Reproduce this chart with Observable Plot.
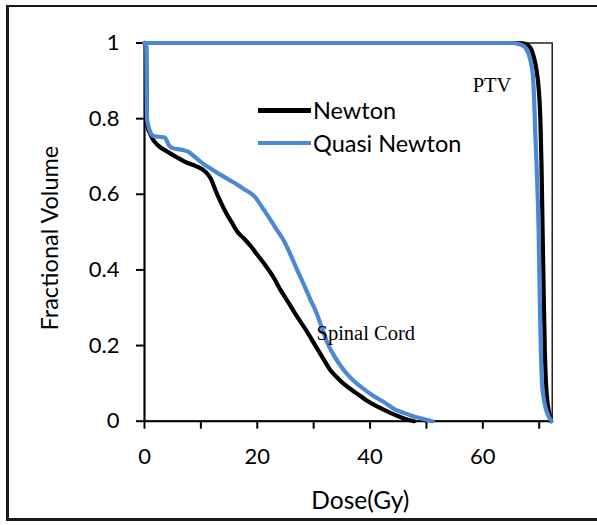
<!DOCTYPE html>
<html>
<head>
<meta charset="utf-8">
<script src="https://cdn.jsdelivr.net/npm/d3@7"></script>
<script src="https://cdn.jsdelivr.net/npm/@observablehq/plot@0.6"></script>
<style>
  html, body { margin: 0; padding: 0; background: #fff; }
  #wrap { position: relative; width: 597px; height: 525px; overflow: hidden; }
  #border { position: absolute; left: 6px; top: 5px; width: 640px; height: 516px;
            border-left: 3.5px solid #1a1a1a; border-top: 2.5px solid #1a1a1a; border-bottom: 3px solid #1a1a1a;
            box-sizing: border-box; pointer-events: none; }
  #legend { position: absolute; left: 258px; top: 94px; font-family: Lato, sans-serif; font-size: 23.5px; color: #000; }
  #legend .row { display: flex; align-items: center; height: 32.5px; }
  #legend .sw { width: 53px; height: 4.5px; margin-right: 2px; }
</style>
</head>
<body>
<div id="wrap">
  <div id="chart"></div>
  <div id="legend"></div>
  <div id="border"></div>
</div>
<script>
// ---- data ----
const seriesNames = ["Newton", "Quasi Newton"];
const seriesColors = ["#000000", "#4d88d4"];

// PTV dose-volume histogram
const ptvNewtonDose   = [0, 66.5, 67.5, 68.3, 69.0, 69.5, 69.9, 70.2, 70.4, 70.6, 70.8, 71.0, 71.2, 71.5, 71.8, 72.1];
const ptvNewtonVol    = [1, 1, 0.998, 0.99, 0.965, 0.93, 0.88, 0.80, 0.68, 0.50, 0.33, 0.18, 0.10, 0.045, 0.02, 0];
const ptvQuasiDose    = [0, 65.0, 66.5, 67.4, 68.0, 68.5, 68.9, 69.1, 69.3, 69.6, 69.9, 70.1, 70.3, 70.5, 70.8, 71.1, 71.6, 72.2];
const ptvQuasiVol     = [1, 1, 0.997, 0.99, 0.975, 0.95, 0.91, 0.85, 0.76, 0.65, 0.50, 0.32, 0.18, 0.10, 0.06, 0.037, 0.015, 0];

// Spinal cord dose-volume histogram
const cordNewtonDose  = [0, 0.3, 0.4, 0.6, 1.0, 1.5, 2.5, 4.0, 5.5, 7.3, 9.0, 10.8, 11.8, 12.6, 13.5, 14.5, 15.5, 16.5, 17.5, 19.0, 20.0, 21.2, 22.9, 24.0, 25.3, 26.5, 27.7, 28.9, 30.3, 31.8, 33.0, 34.2, 35.4, 37.5, 39.4, 41.5, 43.6, 45.0, 46.3, 47.8];
const cordNewtonVol   = [1, 0.99, 0.80, 0.775, 0.76, 0.745, 0.728, 0.713, 0.70, 0.685, 0.675, 0.66, 0.64, 0.61, 0.58, 0.55, 0.525, 0.50, 0.485, 0.46, 0.44, 0.417, 0.38, 0.35, 0.319, 0.29, 0.262, 0.235, 0.20, 0.163, 0.134, 0.115, 0.098, 0.075, 0.055, 0.037, 0.022, 0.013, 0.006, 0];
const cordQuasiDose   = [0, 0.3, 0.45, 0.7, 1.0, 1.6, 2.5, 3.6, 4.3, 5.0, 6.5, 7.8, 9.0, 10.2, 11.7, 13.2, 14.8, 16.2, 17.8, 18.8, 19.7, 20.5, 21.3, 22.4, 23.5, 24.7, 25.9, 27.1, 28.3, 29.5, 30.4, 31.2, 32.4, 33.5, 35.4, 37.0, 38.9, 40.5, 42.5, 44.3, 46.0, 47.5, 48.6, 50.0, 51.1];
const cordQuasiVol    = [1, 0.99, 0.80, 0.78, 0.765, 0.754, 0.752, 0.75, 0.73, 0.722, 0.718, 0.712, 0.698, 0.683, 0.668, 0.654, 0.64, 0.628, 0.612, 0.603, 0.591, 0.574, 0.556, 0.531, 0.505, 0.478, 0.44, 0.399, 0.36, 0.319, 0.29, 0.258, 0.208, 0.176, 0.134, 0.108, 0.085, 0.068, 0.05, 0.032, 0.022, 0.014, 0.009, 0.004, 0];

// annotations (in data units)
const annoText = ["PTV", "Spinal Cord"];
const annoDose = [58.2, 30.5];
const annoVol  = [0.888, 0.232];

// axes
const xTicks = [0, 10, 20, 30, 40, 50, 60, 70];
const xTickLabels = ["0", "", "20", "", "40", "", "60", ""];
const yTicks = [0, 0.2, 0.4, 0.6, 0.8, 1];
const yTickLabels = ["0", "0.2", "0.4", "0.6", "0.8", "1"];
const xTitle = "Dose(Gy)";
const yTitle = "Fractional Volume";

// ---- build rows ----
function rows(dose, vol, series, structure) {
  return dose.map((d, i) => ({dose: d, vol: vol[i], series, structure}));
}
const curves = [
  rows(ptvNewtonDose, ptvNewtonVol, "Newton", "PTV"),
  rows(cordNewtonDose, cordNewtonVol, "Newton", "Cord"),
  rows(ptvQuasiDose, ptvQuasiVol, "Quasi Newton", "PTV"),
  rows(cordQuasiDose, cordQuasiVol, "Quasi Newton", "Cord")
];
const annos = annoText.map((t, i) => ({t, dose: annoDose[i], vol: annoVol[i]}));

const lineMarks = curves.map(c => Plot.line(c, {
  x: "dose", y: "vol", stroke: seriesColors[seriesNames.indexOf(c[0].series)],
  strokeWidth: 4.2, curve: "monotone-x", strokeLinejoin: "round", strokeLinecap: "round"
}));

const plot = Plot.plot({
  width: 597,
  height: 525,
  marginLeft: 144,
  marginRight: 45.3,
  marginTop: 42.5,
  marginBottom: 104.3,
  style: {fontFamily: "Lato, sans-serif", fontSize: "22px", color: "#000", background: "transparent", overflow: "visible"},
  x: {domain: [0, 72.3]},
  y: {domain: [0, 1]},
  marks: [
    Plot.frame({stroke: "#000", strokeWidth: 1.3}),
    Plot.axisX({ticks: xTicks, tickSize: 8, tickPadding: 19, strokeWidth: 2,
      tickFormat: d => xTickLabels[xTicks.indexOf(d)], label: null, fontSize: 22}),
    Plot.axisY({ticks: yTicks, tickSize: 8, tickPadding: 17, strokeWidth: 2,
      tickFormat: d => yTickLabels[yTicks.indexOf(d)], label: null, fontSize: 22}),
    Plot.ruleX([0], {stroke: "#000", strokeWidth: 2}),
    Plot.ruleY([0], {stroke: "#000", strokeWidth: 2}),
    ...lineMarks,
    Plot.text(annos, {x: "dose", y: "vol", text: "t", textAnchor: "start",
      fontFamily: "'Liberation Serif', 'Times New Roman', serif", fontSize: 20.5, fill: "#000"}),
    Plot.text([xTitle], {frameAnchor: "bottom", lineAnchor: "bottom", dx: 12, dy: 87.5, fontSize: 24.5, fill: "#000"}),
    Plot.text([yTitle], {frameAnchor: "left", textAnchor: "middle", rotate: -90, dx: -94, dy: 6, fontSize: 23.5, fill: "#000"})
  ]
});
document.getElementById("chart").appendChild(plot);

// legend
const legend = document.getElementById("legend");
seriesNames.forEach((name, i) => {
  const row = document.createElement("div");
  row.className = "row";
  const sw = document.createElement("div");
  sw.className = "sw";
  sw.style.background = seriesColors[i];
  const label = document.createElement("span");
  label.textContent = name;
  row.appendChild(sw);
  row.appendChild(label);
  legend.appendChild(row);
});
</script>
</body>
</html>
